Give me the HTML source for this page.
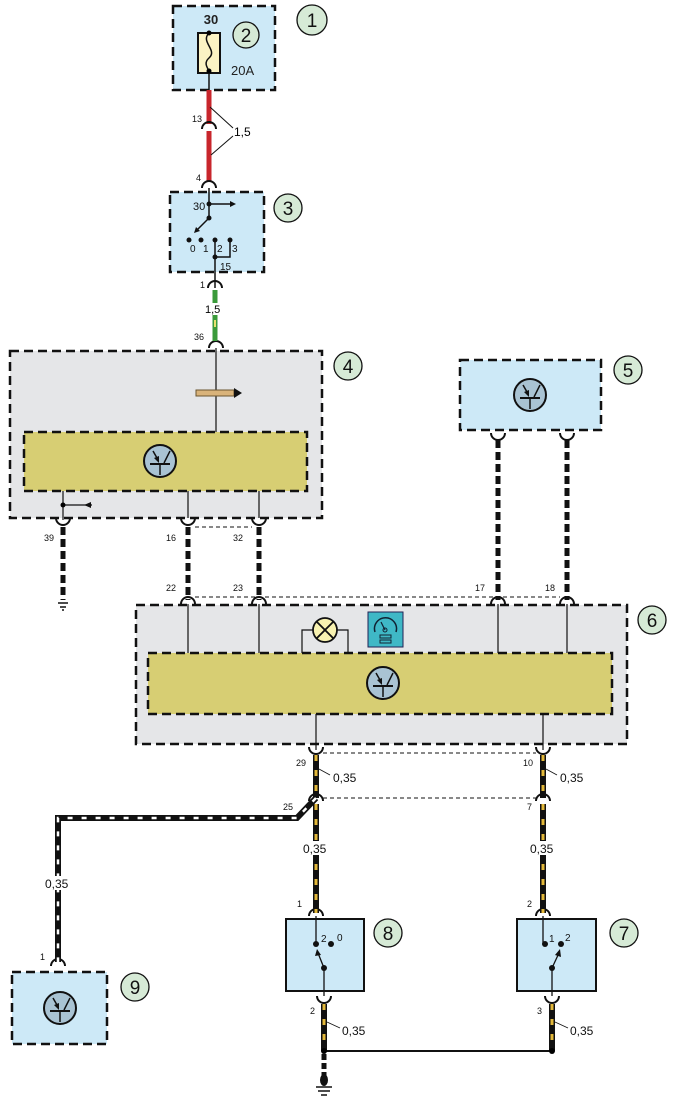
<!DOCTYPE html>
<html><head><meta charset="utf-8"><style>
body{margin:0;background:#fff}
svg{display:block;font-family:"Liberation Sans",sans-serif}
</style></head><body>
<svg width="689" height="1103" viewBox="0 0 689 1103" xmlns="http://www.w3.org/2000/svg">
<defs>
<g id="tr"><circle r="16" fill="#a9c3d3" stroke="#111" stroke-width="2"/><line x1="-10" y1="3" x2="10" y2="3" stroke="#111" stroke-width="2"/><line x1="0" y1="3" x2="0" y2="14" stroke="#111" stroke-width="1.5"/><line x1="-7" y1="-10" x2="-3" y2="-3" stroke="#111" stroke-width="1.5"/><polygon points="-1,2 -6,-3 -1,-5" fill="#111"/><line x1="10" y1="-10" x2="4" y2="2" stroke="#111" stroke-width="1.5"/></g>
</defs>
<g stroke="#111" stroke-width="2.5" stroke-dasharray="9,5" fill="none">
<rect x="173" y="6" width="102" height="84" fill="#cde9f7"/>
<rect x="170" y="192" width="94" height="80" fill="#cde9f7"/>
<rect x="10" y="351" width="312" height="167" fill="#e5e6e8"/>
<rect x="24" y="432" width="283" height="59" fill="#d7ce73"/>
<rect x="460" y="360" width="141" height="70" fill="#cde9f7"/>
<rect x="136" y="605" width="491" height="139" fill="#e5e6e8"/>
<rect x="148" y="653" width="464" height="61" fill="#d7ce73"/>
<rect x="12" y="972" width="95" height="72" fill="#cde9f7"/>
</g>
<rect x="286" y="919" width="78" height="72" fill="#cde9f7" stroke="#111" stroke-width="2"/>
<rect x="517" y="919" width="79" height="72" fill="#cde9f7" stroke="#111" stroke-width="2"/>
<g fill="#d6ead6" stroke="#111" stroke-width="1.3">
<circle cx="312" cy="20" r="15"/><circle cx="246" cy="35" r="13"/><circle cx="288" cy="208" r="14"/>
<circle cx="348" cy="366" r="14"/><circle cx="628" cy="370" r="14"/><circle cx="652" cy="620" r="14"/>
<circle cx="388" cy="933" r="14"/><circle cx="624" cy="933" r="14"/><circle cx="135" cy="987" r="14"/>
</g>
<g font-size="19" text-anchor="middle" fill="#111">
<text x="312" y="27">1</text><text x="246" y="42">2</text><text x="288" y="215">3</text><text x="348" y="373">4</text><text x="628" y="377">5</text><text x="652" y="627">6</text><text x="388" y="940">8</text><text x="624" y="940">7</text><text x="135" y="994">9</text>
</g>
<!-- fuse -->
<rect x="198" y="33" width="22" height="40" fill="#fbf3c4" stroke="#111" stroke-width="2"/>
<path d="M209,33 C200,42 218,50 209,58 C202,64 210,70 209,72" stroke="#111" fill="none" stroke-width="1.5"/>
<circle cx="209" cy="33" r="2.5"/><circle cx="209" cy="71" r="2.5"/>
<line x1="209" y1="73" x2="209" y2="90" stroke="#111" stroke-width="1.5"/>
<text x="211" y="24" font-size="13" text-anchor="middle" font-weight="bold" fill="#222">30</text>
<text x="231" y="75" font-size="13" fill="#222">20A</text>
<!-- red wire -->
<line x1="209" y1="90" x2="209" y2="124" stroke="#c8262c" stroke-width="5"/>
<line x1="209" y1="131" x2="209" y2="182" stroke="#c8262c" stroke-width="5"/>
<g stroke="#111" stroke-width="1" fill="none"><line x1="210" y1="107" x2="233" y2="128"/><line x1="211" y1="155" x2="233" y2="136"/></g>
<text x="234" y="136" font-size="12">1,5</text>
<!-- connectors arcs -->
<g stroke="#111" stroke-width="2" fill="none">
<path d="M202,129 a7,7 0 0 1 14,0"/><path d="M202,188 a7,7 0 0 1 14,0"/>
<path d="M208,288 a7,7 0 0 1 14,0"/><path d="M209,348 a7,7 0 0 1 14,0"/>
<path d="M56,518 a7,7 0 0 0 14,0"/><path d="M181,518 a7,7 0 0 0 14,0"/><path d="M252,518 a7,7 0 0 0 14,0"/>
<path d="M491,433 a7,7 0 0 0 14,0"/><path d="M560,433 a7,7 0 0 0 14,0"/>
<path d="M181,604 a7,7 0 0 1 14,0"/><path d="M252,604 a7,7 0 0 1 14,0"/><path d="M491,604 a7,7 0 0 1 14,0"/><path d="M560,604 a7,7 0 0 1 14,0"/>
<path d="M309,747 a7,7 0 0 0 14,0"/><path d="M536,747 a7,7 0 0 0 14,0"/>
<path d="M309,801 a7,7 0 0 1 14,0"/><path d="M536,801 a7,7 0 0 1 14,0"/>
<path d="M309,916 a7,7 0 0 1 14,0"/><path d="M536,916 a7,7 0 0 1 14,0"/>
<path d="M317,996 a7,7 0 0 0 14,0"/><path d="M545,996 a7,7 0 0 0 14,0"/>
<path d="M51,966 a7,7 0 0 1 14,0"/>
</g>
<g font-size="9" fill="#111">
<text x="192" y="122">13</text><text x="196" y="181">4</text><text x="200" y="288">1</text><text x="194" y="340">36</text>
<text x="44" y="541">39</text><text x="166" y="541">16</text><text x="233" y="541">32</text>
<text x="166" y="591">22</text><text x="233" y="591">23</text><text x="475" y="591">17</text><text x="545" y="591">18</text>
<text x="296" y="766">29</text><text x="523" y="766">10</text><text x="283" y="810">25</text><text x="527" y="810">7</text>
<text x="297" y="907">1</text><text x="527" y="907">2</text><text x="310" y="1014">2</text><text x="537" y="1014">3</text><text x="40" y="960">1</text>
</g>
<!-- ignition switch -->
<g stroke="#111" stroke-width="1.5" fill="none">
<line x1="209" y1="188" x2="209" y2="218"/><line x1="209" y1="204" x2="232" y2="204"/>
<line x1="209" y1="218" x2="196" y2="231"/>
<polyline points="215,240 215,257 230,257 230,240"/><line x1="215" y1="257" x2="215" y2="288"/>
</g>
<polygon points="236,204 230,201 230,207" fill="#111"/><polygon points="194,233 196,227 200,231" fill="#111"/>
<g fill="#111"><circle cx="209" cy="204" r="2.5"/><circle cx="209" cy="218" r="2.5"/><circle cx="189" cy="240" r="2.5"/><circle cx="201" cy="240" r="2.5"/><circle cx="215" cy="240" r="2.5"/><circle cx="230" cy="240" r="2.5"/><circle cx="215" cy="257" r="2.5"/></g>
<g font-size="10" fill="#111"><text x="193" y="210" font-size="11">30</text><text x="190" y="252">0</text><text x="203" y="252">1</text><text x="217" y="252">2</text><text x="232" y="252">3</text><text x="220" y="270">15</text></g>
<!-- green wire -->
<line x1="215" y1="290" x2="215" y2="341" stroke="#3a9a3a" stroke-width="5"/>
<line x1="215" y1="320" x2="215" y2="327" stroke="#e8e070" stroke-width="2"/>
<rect x="203" y="303" width="22" height="12" fill="#fff"/><text x="205" y="313" font-size="11">1,5</text>
<!-- block4 -->
<line x1="216" y1="348" x2="216" y2="432" stroke="#111" stroke-width="1.2"/>
<rect x="196" y="390" width="38" height="6" fill="#d9b37a" stroke="#6b5530"/>
<polygon points="234,388 242,393 234,398" fill="#111"/>
<use href="#tr" x="160" y="461"/>
<g stroke="#111" stroke-width="1.2"><line x1="63" y1="491" x2="63" y2="520"/><line x1="63" y1="505" x2="92" y2="505"/><line x1="188" y1="491" x2="188" y2="518"/><line x1="259" y1="491" x2="259" y2="518"/></g>
<circle cx="63" cy="505" r="2.5"/><polygon points="84,505 91,502 91,508" fill="#111"/>
<line x1="195" y1="527" x2="252" y2="527" stroke="#111" stroke-dasharray="4,3" stroke-width="1"/>
<g stroke="#111" stroke-width="5" stroke-dasharray="8,4">
<line x1="63" y1="527" x2="63" y2="600"/><line x1="188" y1="527" x2="188" y2="600"/><line x1="259" y1="527" x2="259" y2="600"/>
<line x1="498" y1="440" x2="498" y2="600"/><line x1="567" y1="440" x2="567" y2="600"/>
</g>
<path d="M58,603 h10 M60,607 h6 M62,610 h2" stroke="#111" stroke-width="1.5"/>
<use href="#tr" x="530" y="395"/>
<!-- block6 -->
<line x1="195" y1="597" x2="560" y2="597" stroke="#111" stroke-dasharray="4,3" stroke-width="1"/>
<g stroke="#111" stroke-width="1.2" fill="none"><line x1="188" y1="604" x2="188" y2="653"/><line x1="259" y1="604" x2="259" y2="653"/><line x1="498" y1="604" x2="498" y2="653"/><line x1="567" y1="604" x2="567" y2="653"/>
<polyline points="302,653 302,630 348,630 348,653"/><line x1="316" y1="714" x2="316" y2="750"/><line x1="543" y1="714" x2="543" y2="750"/></g>
<circle cx="325" cy="630" r="12" fill="#f8f2b0" stroke="#111" stroke-width="1.8"/>
<path d="M317,622 L333,638 M333,622 L317,638" stroke="#111" stroke-width="1.8"/>
<rect x="368" y="612" width="35" height="35" fill="#3fb8c6" stroke="#225" stroke-width="1"/>
<path d="M375,632 a11,11 0 1 1 21,0" fill="none" stroke="#123" stroke-width="1.5"/>
<line x1="385" y1="630" x2="381" y2="622" stroke="#123" stroke-width="1.2"/><circle cx="385" cy="630" r="2" fill="none" stroke="#123"/>
<rect x="380" y="635" width="11" height="3" fill="none" stroke="#123"/><rect x="380" y="640" width="11" height="3" fill="none" stroke="#123"/>
<use href="#tr" x="383" y="683"/>
<!-- lower wires -->
<line x1="323" y1="753" x2="536" y2="753" stroke="#111" stroke-dasharray="4,3" stroke-width="1"/>
<line x1="323" y1="798" x2="536" y2="798" stroke="#111" stroke-dasharray="4,3" stroke-width="1"/>
<g stroke-width="6"><line x1="316" y1="755" x2="316" y2="798" stroke="#111"/><line x1="543" y1="755" x2="543" y2="798" stroke="#111"/>
<line x1="316" y1="804" x2="316" y2="913" stroke="#111"/><line x1="543" y1="804" x2="543" y2="913" stroke="#111"/>
<line x1="324" y1="1004" x2="324" y2="1051" stroke="#111"/><line x1="552" y1="1004" x2="552" y2="1051" stroke="#111"/></g>
<g stroke-width="3" stroke="#e2b83a" stroke-dasharray="6,9"><line x1="316" y1="755" x2="316" y2="798"/><line x1="543" y1="755" x2="543" y2="798"/>
<line x1="316" y1="804" x2="316" y2="913"/><line x1="543" y1="804" x2="543" y2="913"/><line x1="324" y1="1004" x2="324" y2="1051"/><line x1="552" y1="1004" x2="552" y2="1051"/></g>
<polyline points="316,798 297,818 58,818 58,962" fill="none" stroke="#111" stroke-width="6"/>
<polyline points="316,798 297,818 58,818 58,962" fill="none" stroke="#fff" stroke-width="2.5" stroke-dasharray="5,9"/>
<g stroke="#111" stroke-width="0.8"><line x1="319" y1="769" x2="330" y2="775"/><line x1="546" y1="769" x2="557" y2="775"/><line x1="327" y1="1022" x2="340" y2="1028"/><line x1="555" y1="1022" x2="568" y2="1028"/></g>
<g font-size="12" fill="#111">
<text x="333" y="782">0,35</text><text x="560" y="782">0,35</text>
<rect x="302" y="841" width="28" height="14" fill="#fff"/><text x="303" y="853">0,35</text>
<rect x="529" y="841" width="28" height="14" fill="#fff"/><text x="530" y="853">0,35</text>
<rect x="44" y="876" width="28" height="14" fill="#fff"/><text x="45" y="888">0,35</text>
<text x="342" y="1035">0,35</text><text x="570" y="1035">0,35</text>
</g>
<line x1="324" y1="1051" x2="552" y2="1051" stroke="#111" stroke-width="2"/>
<circle cx="324" cy="1051" r="3"/><circle cx="552" cy="1051" r="3"/>
<line x1="324" y1="1054" x2="324" y2="1075" stroke="#111" stroke-width="5" stroke-dasharray="6,3"/>
<ellipse cx="324" cy="1080" rx="4" ry="6" fill="#111"/>
<path d="M316,1087 h16 M318,1091 h12 M321,1095 h6" stroke="#111" stroke-width="1.5"/>
<!-- switches -->
<g stroke="#111" stroke-width="1.3"><line x1="316" y1="916" x2="316" y2="944"/><line x1="324" y1="968" x2="324" y2="996"/><line x1="324" y1="968" x2="318" y2="953"/>
<line x1="543" y1="916" x2="543" y2="944"/><line x1="552" y1="968" x2="552" y2="996"/><line x1="552" y1="968" x2="559" y2="953"/></g>
<polygon points="317,949 315,956 321,955" fill="#111"/><polygon points="560,949 555,955 561,957" fill="#111"/>
<g fill="#111"><circle cx="316" cy="944" r="3"/><circle cx="331" cy="944" r="3"/><circle cx="324" cy="968" r="3"/><circle cx="545" cy="944" r="3"/><circle cx="561" cy="944" r="3"/><circle cx="552" cy="968" r="3"/></g>
<g font-size="10" fill="#111"><text x="321" y="942">2</text><text x="337" y="941">0</text><text x="549" y="942">1</text><text x="565" y="941">2</text></g>
<use href="#tr" x="60" y="1008"/>
</svg>
</body></html>
